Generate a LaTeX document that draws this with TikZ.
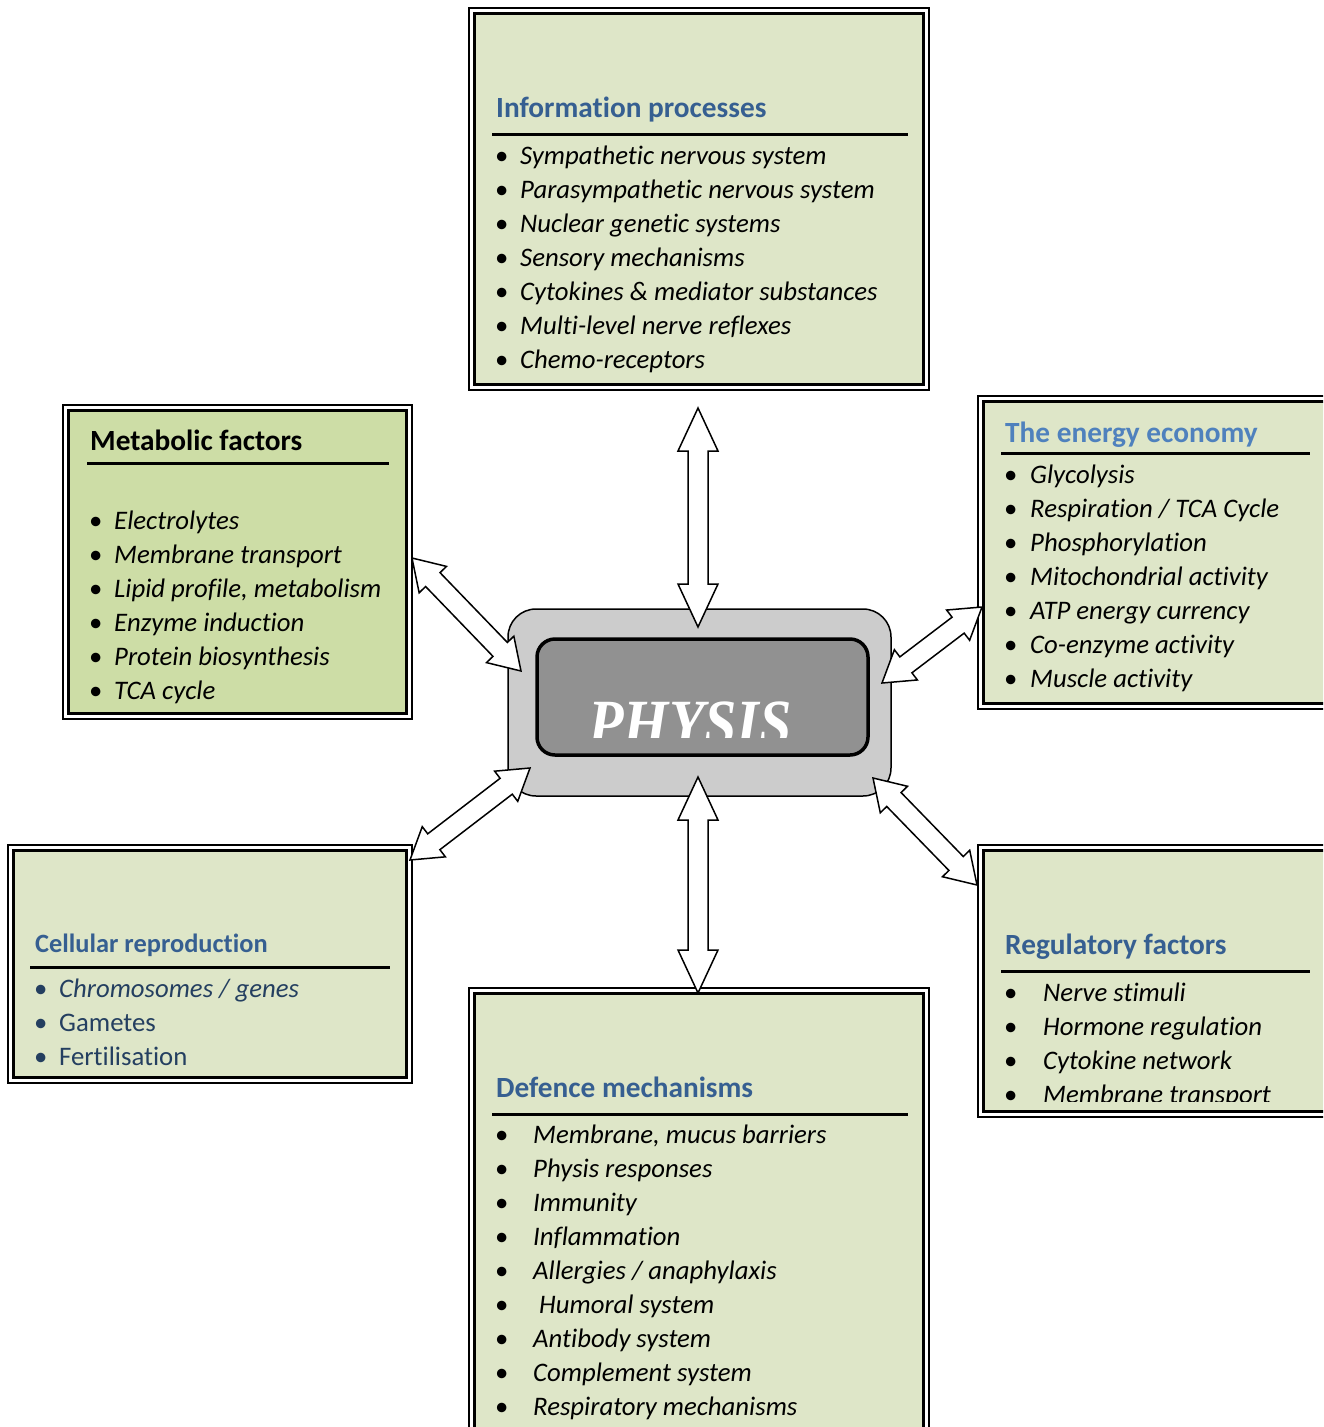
\documentclass[tikz,border=0pt]{standalone}
\usepackage{fontspec}
\setmainfont{Carlito}[Ligatures={NoCommon}]
\newfontfamily\physfont{Liberation Serif}
\usetikzlibrary{calc}
\definecolor{boxgreen}{RGB}{222,230,200}
\definecolor{metagreen}{RGB}{205,221,166}
\definecolor{headblue}{RGB}{54,95,145}
\definecolor{energyblue}{RGB}{79,129,189}
\definecolor{itemblue}{RGB}{36,63,96}
\definecolor{physlight}{RGB}{204,204,204}
\definecolor{physdark}{RGB}{145,145,145}
\tikzset{
 panel/.style={draw=black, line width=3pt, rectangle, inner sep=0pt, outer sep=0pt},
 outerline/.style={draw=black, line width=1.5pt},
 head/.style={anchor=base west, inner sep=0pt, font=\fontsize{29.3}{34}\selectfont\bfseries, text=headblue},
 listnode/.style={anchor=base west, inner sep=0pt, align=left, font=\fontsize{26.75}{34}\selectfont\itshape},
 rulel/.style={line width=3pt},
 blockarrow/.style={draw=black, fill=white, line width=1.5pt, line join=miter},
}
\newcommand\panelbox[6]{%
 \draw[outerline] (#2,#3) rectangle (#4,#5);
 \node[panel, fill=#6, minimum width={#4-#2-11}, minimum height={#5-#3-11}] (#1) at ({(#2+#4)/2},{(#3+#5)/2}) {};
}
\newcommand\dblarrow[5]{%
 \draw[blockarrow] (#1)
 -- ($(#1)!#3!(#2)!#4!90:(#2)$)
 -- ($(#1)!#3!(#2)!#5!90:(#2)$)
 -- ($(#2)!#3!(#1)!#5!-90:(#1)$)
 -- ($(#2)!#3!(#1)!#4!-90:(#1)$)
 -- (#2)
 -- ($(#2)!#3!(#1)!#4!90:(#1)$)
 -- ($(#2)!#3!(#1)!#5!90:(#1)$)
 -- ($(#1)!#3!(#2)!#5!-90:(#2)$)
 -- ($(#1)!#3!(#2)!#4!-90:(#2)$)
 -- cycle;}
\begin{document}
\begin{tikzpicture}[x=1pt,y=-1pt]
\useasboundingbox (0,0) rectangle (1323,1427);
\clip (0,0) rectangle (1323,1427);

% panels
\panelbox{info}{469}{8}{929}{390}{boxgreen}
\panelbox{meta}{63}{405}{412}{719}{metagreen}
\panelbox{energy}{978}{396}{1345}{709}{boxgreen}
\panelbox{cell}{8}{845}{412}{1083}{boxgreen}
\panelbox{reg}{978}{845}{1345}{1117}{boxgreen}
\panelbox{def}{469}{988}{929}{1450}{boxgreen}

% Information processes
\node[head] (infoh) at (496,117) {Information processes};
\draw[rulel] (492,134) -- (908,134);
\node[listnode] (infol) at (495,164) {\begin{tabular}[t]{@{}p{25pt}@{}l@{}}
\upshape• & Sympathetic nervous system\\
\upshape• & Parasympathetic nervous system\\
\upshape• & Nuclear genetic systems\\
\upshape• & Sensory mechanisms\\
\upshape• & Cytokines \& mediator substances\\
\upshape• & Multi-level nerve reflexes\\
\upshape• & Chemo-receptors
\end{tabular}};

% Metabolic factors
\node[head, text=black] (metah) at (90,450) {Metabolic factors};
\draw[rulel] (87,463) -- (389,463);
\node[listnode] (metal) at (89,529) {\begin{tabular}[t]{@{}p{25pt}@{}l@{}}
\upshape• & Electrolytes\\
\upshape• & Membrane transport\\
\upshape• & Lipid profile, metabolism\\
\upshape• & Enzyme induction\\
\upshape• & Protein biosynthesis\\
\upshape• & TCA cycle
\end{tabular}};

% Energy economy
\node[head, text=energyblue] (energyh) at (1005,442) {The energy economy};
\draw[rulel] (1001,453) -- (1310,453);
\node[listnode] (energyl) at (1004,483) {\begin{tabular}[t]{@{}p{26pt}@{}l@{}}
\upshape• & Glycolysis\\
\upshape• & Respiration / TCA Cycle\\
\upshape• & Phosphorylation\\
\upshape• & Mitochondrial activity\\
\upshape• & ATP energy currency\\
\upshape• & Co-enzyme activity\\
\upshape• & Muscle activity
\end{tabular}};

% Cellular reproduction
\node[head, font=\fontsize{26.4}{34}\selectfont\bfseries] (cellh) at (35,952) {Cellular reproduction};
\draw[rulel] (30,967) -- (390,967);
\node[listnode, text=itemblue] (celll) at (34,997) {\begin{tabular}[t]{@{}p{25pt}@{}l@{}}
\upshape• & Chromosomes / genes\\
\upshape• & \upshape Gametes\\
\upshape• & \upshape Fertilisation
\end{tabular}};

% Regulatory factors
\node[head] (regh) at (1005,954) {Regulatory factors};
\draw[rulel] (1001,971) -- (1310,971);
\begin{scope}
\clip (983,851) rectangle (1330,1101);
\node[listnode] (regl) at (1004,1001) {\begin{tabular}[t]{@{}p{39pt}@{}l@{}}
\upshape• & Nerve stimuli\\
\upshape• & Hormone regulation\\
\upshape• & Cytokine network\\
\upshape• & Membrane transport
\end{tabular}};
\end{scope}

% Defence mechanisms
\node[head] (defh) at (496,1097) {Defence mechanisms};
\draw[rulel] (492,1114) -- (908,1114);
\begin{scope}
\clip (475,1116) rectangle (923,1421);
\node[listnode] (defl) at (495,1143) {\begin{tabular}[t]{@{}p{38pt}@{}l@{}}
\upshape• & Membrane, mucus barriers\\
\upshape• & Physis responses\\
\upshape• & Immunity\\
\upshape• & Inflammation\\
\upshape• & Allergies / anaphylaxis\\
\upshape• & \hspace{6pt}Humoral system\\
\upshape• & Antibody system\\
\upshape• & Complement system\\
\upshape• & Respiratory mechanisms
\end{tabular}};
\end{scope}

% Central PHYSIS
\node[draw, line width=1.5pt, fill=physlight, rounded corners=28pt, minimum width=383, minimum height=187, inner sep=0pt] (physo) at (699.5,702.5) {};
\node[draw, line width=3.5pt, fill=physdark, rounded corners=18pt, minimum width=331, minimum height=116, inner sep=0pt] (physi) at (702.5,697) {};
\begin{scope}
\clip (537,639) rectangle (868,737);
\node[anchor=base, inner sep=0pt, text=white, xscale=0.88, font=\physfont\fontsize{66}{66}\selectfont\bfseries\itshape] (phys) at (690,745) {PHYSIS};
\end{scope}

% arrows
\coordinate (tA) at (698,408); \coordinate (tB) at (698,627);
\coordinate (bA) at (698,777); \coordinate (bB) at (698,993);
\coordinate (ulA) at (412,558); \coordinate (ulB) at (521,671);
\coordinate (urA) at (982,607); \coordinate (urB) at (882,683);
\coordinate (llA) at (530,768); \coordinate (llB) at (410,860);
\coordinate (lrA) at (873,778); \coordinate (lrB) at (977,885);
\dblarrow{tA}{tB}{43pt}{20pt}{10pt}
\dblarrow{bA}{bB}{43pt}{20pt}{10pt}
\dblarrow{ulA}{ulB}{30pt}{19pt}{10pt}
\dblarrow{urA}{urB}{30pt}{19pt}{10pt}
\dblarrow{llA}{llB}{30pt}{19pt}{10pt}
\dblarrow{lrA}{lrB}{30pt}{19pt}{10pt}
\end{tikzpicture}
\end{document}
